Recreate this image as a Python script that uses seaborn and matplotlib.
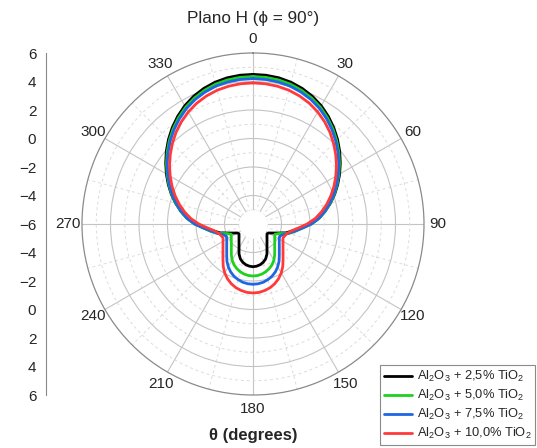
import numpy as np
import pandas as pd
import matplotlib
matplotlib.use("Agg")
import matplotlib.pyplot as plt
import seaborn as sns

sns.set_style("white")
plt.rcParams["font.family"] = ["Liberation Sans", "DejaVu Sans"]
plt.rcParams["mathtext.fontset"] = "custom"
plt.rcParams["mathtext.rm"] = "Liberation Sans"
plt.rcParams["mathtext.it"] = "Liberation Sans:italic"
plt.rcParams["mathtext.bf"] = "Liberation Sans:bold"

# Angle of each sample (degrees, clockwise from the top)
theta_deg = np.arange(0, 361, 5)

# Gain (dB) for each composition
r_25 = [4.50, 4.48, 4.42, 4.30, 4.12, 3.88, 3.58, 3.22, 2.82, 2.39, 1.94, 1.48, 1.02, 0.56, 0.10,
        -0.38, -0.86, -1.35, -1.95, -2.65, -3.20, -3.60, -4.15, -4.50, -4.74, -4.80, -4.72, -4.61,
        -4.47, -4.29, -4.04, -3.68, -3.40, -3.22, -3.10, -3.03, -3.00,
        -3.03, -3.10, -3.22, -3.40, -3.68, -4.04, -4.29, -4.47, -4.61, -4.72, -4.80, -4.74, -4.50,
        -4.15, -3.60, -3.20, -2.65, -1.95, -1.35, -0.86, -0.38, 0.10, 0.56, 1.02, 1.48, 1.94, 2.39,
        2.82, 3.22, 3.58, 3.88, 4.12, 4.30, 4.42, 4.48, 4.50]
r_50 = [4.35, 4.33, 4.27, 4.16, 3.98, 3.75, 3.46, 3.11, 2.72, 2.30, 1.86, 1.41, 0.96, 0.51, 0.07,
        -0.39, -0.86, -1.33, -1.90, -2.55, -3.00, -3.42, -4.05, -4.30, -4.24, -4.14, -4.01, -3.85,
        -3.63, -3.35, -3.07, -2.84, -2.67, -2.53, -2.43, -2.37, -2.35,
        -2.37, -2.43, -2.53, -2.67, -2.84, -3.07, -3.35, -3.63, -3.85, -4.01, -4.14, -4.24, -4.30,
        -4.05, -3.42, -3.00, -2.55, -1.90, -1.33, -0.86, -0.39, 0.07, 0.51, 0.96, 1.41, 1.86, 2.30,
        2.72, 3.11, 3.46, 3.75, 3.98, 4.16, 4.27, 4.33, 4.35]
r_75 = [4.20, 4.18, 4.12, 4.02, 3.85, 3.63, 3.35, 3.01, 2.63, 2.22, 1.79, 1.35, 0.91, 0.47, 0.03,
        -0.42, -0.88, -1.35, -1.90, -2.55, -3.05, -3.45, -3.80, -3.94, -3.87, -3.75, -3.59, -3.39,
        -3.13, -2.81, -2.53, -2.29, -2.10, -1.96, -1.85, -1.79, -1.77,
        -1.79, -1.85, -1.96, -2.10, -2.29, -2.53, -2.81, -3.13, -3.39, -3.59, -3.75, -3.87, -3.94,
        -3.80, -3.45, -3.05, -2.55, -1.90, -1.35, -0.88, -0.42, 0.03, 0.47, 0.91, 1.35, 1.79, 2.22,
        2.63, 3.01, 3.35, 3.63, 3.85, 4.02, 4.12, 4.18, 4.20]
r_100 = [3.90, 3.88, 3.82, 3.72, 3.56, 3.35, 3.08, 2.76, 2.40, 2.00, 1.58, 1.15, 0.71, 0.27, -0.18,
         -0.64, -1.12, -1.62, -2.20, -2.80, -3.25, -3.50, -3.62, -3.68, -3.57, -3.43, -3.25, -3.02,
         -2.72, -2.36, -2.03, -1.76, -1.54, -1.37, -1.26, -1.18, -1.16,
         -1.18, -1.26, -1.37, -1.54, -1.76, -2.03, -2.36, -2.72, -3.02, -3.25, -3.43, -3.57, -3.68,
         -3.62, -3.50, -3.25, -2.80, -2.20, -1.62, -1.12, -0.64, -0.18, 0.27, 0.71, 1.15, 1.58, 2.00,
         2.40, 2.76, 3.08, 3.35, 3.56, 3.72, 3.82, 3.88, 3.90]

labels = [r"Al$_2$O$_3$ + 2,5% TiO$_2$", r"Al$_2$O$_3$ + 5,0% TiO$_2$",
          r"Al$_2$O$_3$ + 7,5% TiO$_2$", r"Al$_2$O$_3$ + 10,0% TiO$_2$"]
colors = ["#000000", "#1fd01f", "#1f66e5", "#ff3a3a"]

angle_ticks = list(range(0, 360, 30))
angle_labels = [str(a) for a in angle_ticks]
side_ticks = list(range(-12, 13, 2))
side_labels = ["6", "4", "2", "0", "\u22122", "\u22124", "\u22126", "\u22124", "\u22122", "0", "2", "4", "6"]

frames = []
for lab, vals in zip(labels, [r_25, r_50, r_75, r_100]):
    frames.append(pd.DataFrame({"theta": np.deg2rad(theta_deg), "r": vals, "material": lab}))
df = pd.concat(frames, ignore_index=True)

W, H = 537, 448
fig = plt.figure(figsize=(W / 100, H / 100), dpi=100)
cx, cy, R = 253, 224, 171
ax = fig.add_axes([(cx - R) / W, (H - cy - R) / H, 2 * R / W, 2 * R / H], projection="polar")
ax.set_theta_zero_location("N")
ax.set_theta_direction(-1)
ax.set_ylim(-6, 6)

# grid: solid majors, dashed minors
ax.set_yticks(np.arange(-4, 6, 2))
ax.set_yticks(np.arange(-5, 6, 2), minor=True)
ax.set_yticklabels([])
ax.set_xticks(np.deg2rad(angle_ticks))
ax.set_xticklabels(angle_labels, fontsize=11)
ax.set_xticks(np.deg2rad(np.arange(15, 360, 30)), minor=True)
ax.set_axisbelow(True)
ax.grid(which="major", color="#c4c4c4", lw=0.8, ls="-")
ax.grid(which="minor", color="#dcdcdc", lw=0.7, ls=(0, (3, 3)))
ax.tick_params(axis="x", which="major", pad=-1, direction="out", length=4, color="#888888")
ax.tick_params(axis="x", which="minor", direction="out", length=2.5, color="#888888")
ax.tick_params(axis="y", length=0)
ax.spines["polar"].set_color("#8a8a8a")
ax.spines["polar"].set_linewidth(0.9)

# keep the centre clear of grid lines
ring = np.linspace(0, 2 * np.pi, 200)
ax.fill_between(ring, -6, -5, color="white", zorder=1, lw=0)

sns.lineplot(data=df, x="theta", y="r", hue="material", palette=colors, sort=False,
             estimator=None, ax=ax, legend=False, linewidth=2.0, zorder=3)
ax.set_xlabel("")
ax.set_ylabel("")

fig.text(cx / W, 1 - 19 / H, "Plano H (\u03d5 = 90\u00b0)", ha="center", va="center", fontsize=12.3)
fig.text(cx / W, 1 - 435 / H, "\u03b8 (degrees)", ha="center", va="center",
         fontsize=12, fontweight="bold")

# linear scale on the left
sx = fig.add_axes([46 / W, (H - cy - R) / H, 0.0005, 2 * R / H])
sx.set_ylim(-12, 12)
sx.set_yticks(side_ticks)
sx.set_yticklabels(side_labels, fontsize=11)
sx.set_yticks(range(-11, 12, 2), minor=True)
sx.set_xticks([])
for s in ["top", "right", "bottom"]:
    sx.spines[s].set_visible(False)
sx.spines["left"].set_color("#8a8a8a")
sx.tick_params(axis="y", which="major", length=4, color="#8a8a8a", pad=3)
sx.tick_params(axis="y", which="minor", length=2.5, color="#8a8a8a")
sx.patch.set_alpha(0)

leg = fig.legend(handles=ax.lines[:4], labels=labels, loc="lower right",
                 bbox_to_anchor=(535 / W, 3 / H), fontsize=9.3, frameon=True, fancybox=False,
                 edgecolor="#8a8a8a", handlelength=2.2, handletextpad=0.35, borderpad=0.3,
                 labelspacing=0.3, borderaxespad=0, framealpha=1)
leg.get_frame().set_linewidth(0.8)

fig.savefig("out.png", dpi=100)
